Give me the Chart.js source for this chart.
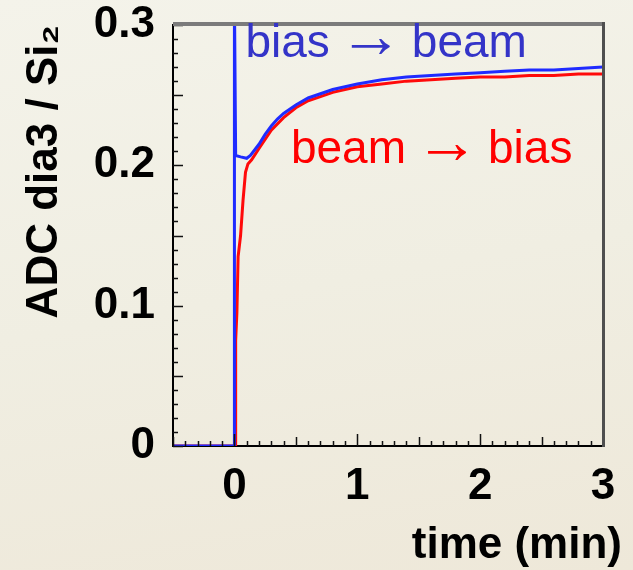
<!DOCTYPE html>
<html>
<head>
<meta charset="utf-8">
<script src="https://cdn.jsdelivr.net/npm/chart.js@4/dist/chart.umd.min.js"></script>
<style>
  html, body { margin: 0; padding: 0; }
  body {
    width: 633px; height: 570px; overflow: hidden;
    background: linear-gradient(170deg, #f4f3ea 0%, #f0eee2 50%, #eee8d9 100%);
  }
  #wrap { position: relative; width: 633px; height: 570px; }
</style>
</head>
<body>
<div id="wrap"><canvas id="chart" width="633" height="570"></canvas></div>
<script>
// time in minutes, ratio ADC dia3 / Si2
const blueTime  = [-0.5, -0.3, -0.1, 0, 0, 0.01, 0.05, 0.1, 0.13, 0.2, 0.25, 0.3, 0.35, 0.4, 0.5, 0.6, 0.7, 0.8, 0.9, 1.0, 1.2, 1.4, 1.6, 1.8, 2.0, 2.2, 2.4, 2.6, 2.8, 3.0];
const blueRatio = [0, 0, 0, 0, 0.32, 0.207, 0.206, 0.205, 0.207, 0.215, 0.222, 0.228, 0.233, 0.237, 0.243, 0.248, 0.251, 0.254, 0.256, 0.258, 0.261, 0.263, 0.264, 0.265, 0.266, 0.267, 0.268, 0.268, 0.269, 0.270];

const redTime  = [-0.5, -0.3, -0.1, 0.01, 0.01, 0.02, 0.03, 0.05, 0.07, 0.09, 0.11, 0.14, 0.2, 0.3, 0.4, 0.5, 0.6, 0.7, 0.8, 0.9, 1.0, 1.2, 1.4, 1.6, 1.8, 2.0, 2.2, 2.4, 2.6, 2.8, 3.0];
const redRatio = [0, 0, 0, 0, 0.075, 0.095, 0.135, 0.15, 0.175, 0.195, 0.201, 0.204, 0.212, 0.225, 0.234, 0.241, 0.246, 0.249, 0.252, 0.254, 0.256, 0.258, 0.260, 0.261, 0.262, 0.263, 0.263, 0.264, 0.264, 0.265, 0.265];

const xTicks = [0, 1, 2, 3];
const yTicks = [0, 0.1, 0.2, 0.3];

const seriesNames = [['bias', '\u2192', 'beam'], ['beam', '\u2192', 'bias']];
const seriesColors = ['#1f2bff', '#ff0a0a'];
const textColors = ['#3434c8', '#ff0000'];
// where the series names are written, in data coordinates
const namePos = [{ x: 0.09, y: 0.277 }, { x: 0.46, y: 0.2015 }];

const FONT = "'Liberation Sans', Arial, Helvetica, sans-serif";
Chart.defaults.font.family = FONT;
Chart.defaults.color = '#000';

const pairs = (xs, ys) => xs.map((x, i) => ({ x: x, y: ys[i] }));

// writes "word → word" with a long thin arrow, like TeX \rightarrow
function drawName(ctx, parts, x, y) {
  ctx.font = '46px ' + FONT;
  ctx.fillText(parts[0], x, y);
  x += ctx.measureText(parts[0]).width + 9;
  ctx.font = '64px ' + FONT;
  ctx.fillText(parts[1], x, y);
  x += ctx.measureText(parts[1]).width + 9;
  ctx.font = '46px ' + FONT;
  ctx.fillText(parts[2], x, y);
}

// inward ticks, frame and in-plot labels, ROOT style
const decorPlugin = {
  id: 'decor',
  afterDatasetsDraw(chart) {
    const { ctx, chartArea: a, scales: { x, y } } = chart;
    ctx.save();
    ctx.strokeStyle = '#111';
    ctx.lineWidth = 1.5;
    ctx.beginPath();
    for (let i = -5; i <= 30; i++) {
      const px = Math.round(x.getPixelForValue(i / 10)) + 0.5;
      const len = i % 10 === 0 ? 12 : (i % 5 === 0 ? 9 : 5);
      ctx.moveTo(px, a.bottom);
      ctx.lineTo(px, a.bottom - len);
    }
    for (let i = 0; i <= 30; i++) {
      const py = Math.round(y.getPixelForValue(i / 100)) + 0.5;
      const len = i % 5 === 0 ? 10 : 5;
      ctx.moveTo(a.left, py);
      ctx.lineTo(a.left + len, py);
    }
    ctx.stroke();

    // top and right frame
    ctx.fillStyle = '#7b7b7b';
    ctx.fillRect(a.left, a.top - 3, a.right - a.left + 2, 4);
    ctx.fillStyle = '#4f4f4f';
    ctx.fillRect(a.right - 1, a.top - 3, 3, a.bottom - a.top + 4);

    // series names
    ctx.textBaseline = 'alphabetic';
    ctx.textAlign = 'left';
    namePos.forEach((p, i) => {
      ctx.fillStyle = textColors[i];
      drawName(ctx, seriesNames[i], x.getPixelForValue(p.x), y.getPixelForValue(p.y));
    });

    // x title, right aligned past the frame like the original
    ctx.fillStyle = '#000';
    ctx.font = 'bold 44px ' + FONT;
    ctx.textAlign = 'right';
    ctx.textBaseline = 'middle';
    ctx.fillText('time (min)', a.right + 19, 546);
    ctx.restore();
  }
};

new Chart(document.getElementById('chart'), {
  type: 'scatter',
  data: {
    datasets: [
      {
        label: seriesNames[1].join(' '),
        data: pairs(redTime, redRatio),
        borderColor: seriesColors[1],
        borderWidth: 3,
        showLine: true,
        pointRadius: 0,
        tension: 0,
        order: 1
      },
      {
        label: seriesNames[0].join(' '),
        data: pairs(blueTime, blueRatio),
        borderColor: seriesColors[0],
        borderWidth: 3,
        showLine: true,
        pointRadius: 0,
        tension: 0,
        order: 0
      }
    ]
  },
  options: {
    responsive: false,
    animation: false,
    layout: { padding: { top: 25, right: 30, left: 0, bottom: 0 } },
    plugins: { legend: { display: false }, tooltip: { enabled: false } },
    scales: {
      x: {
        type: 'linear',
        min: -0.5,
        max: 3,
        afterBuildTicks: s => { s.ticks = xTicks.map(v => ({ value: v })); },
        afterFit: s => { s.height = 124; s.paddingLeft = 0; s.paddingRight = 0; },
        grid: { display: false },
        border: { display: true, color: '#000', width: 2 },
        ticks: {
          font: { size: 44, weight: 'bold' },
          padding: 6,
          maxRotation: 0,
          callback: v => String(v)
        }
      },
      y: {
        type: 'linear',
        min: 0,
        max: 0.3,
        afterBuildTicks: s => { s.ticks = yTicks.map(v => ({ value: v })); },
        afterFit: s => { s.width = 173; s.paddingTop = 0; s.paddingBottom = 0; },
        grid: { display: false },
        border: { display: true, color: '#000', width: 2 },
        ticks: {
          font: { size: 44, weight: 'bold' },
          padding: 10,
          callback: v => (v === 0 ? '0' : v.toFixed(1))
        },
        title: {
          display: true,
          text: 'ADC dia3 / Si\u2082',
          align: 'end',
          font: { size: 44, weight: 'bold' },
          padding: { top: 18, bottom: 0 }
        }
      }
    }
  },
  plugins: [decorPlugin]
});
</script>
</body>
</html>
